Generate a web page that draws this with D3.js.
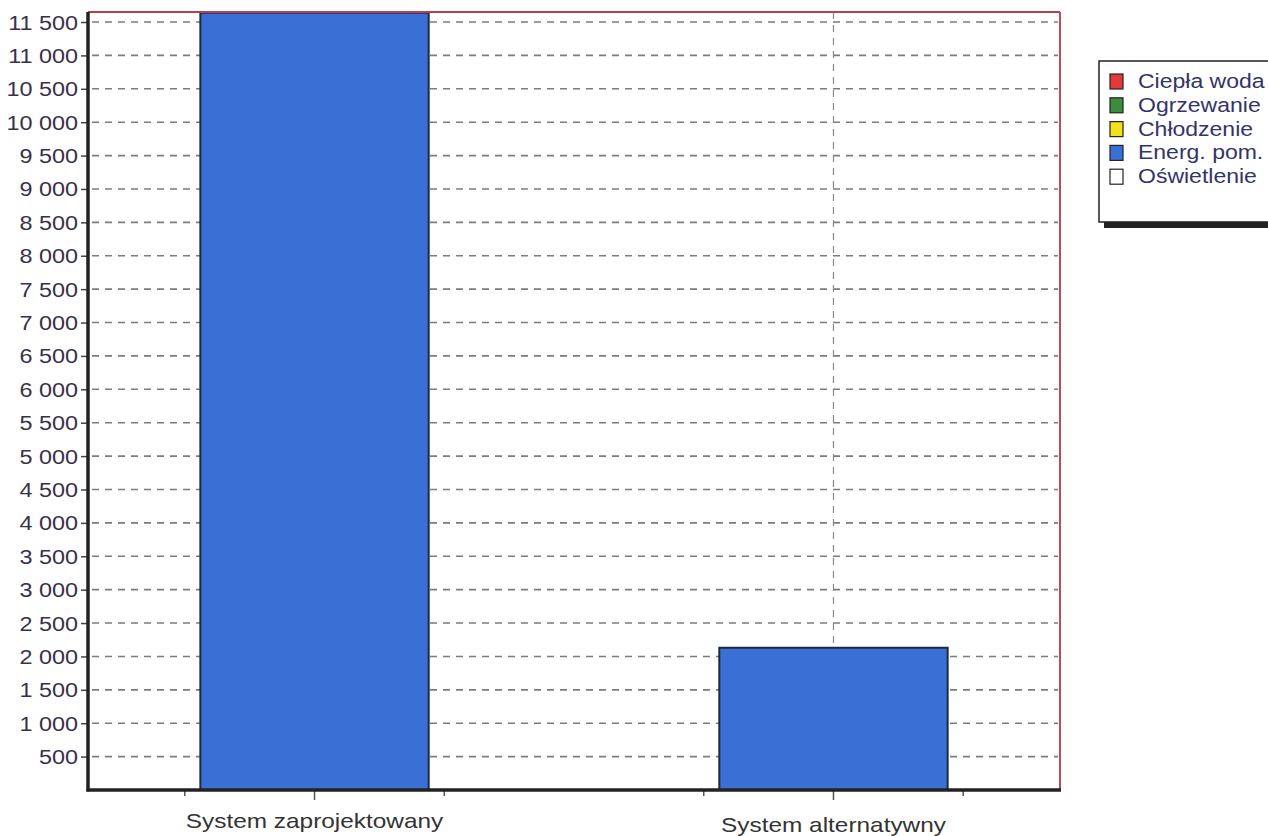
<!DOCTYPE html>
<html>
<head>
<meta charset="utf-8">
<script src="https://cdn.jsdelivr.net/npm/d3@7"></script>
<style>
  body { margin: 0; background: #fff; overflow: hidden; }
  text { font-family: "Liberation Sans", Arial, sans-serif; }
</style>
</head>
<body>
<svg width="1268" height="836"></svg>
<script>
// dane wykresu
var categories = ["System zaprojektowany", "System alternatywny"];
var seriesNames = ["Ciepła woda", "Ogrzewanie", "Chłodzenie", "Energ. pom.", "Oświetlenie"];
var seriesColors = ["#e23a3a", "#3d8b3d", "#f2e21c", "#3a6fd6", "#ffffff"];
var cieplaWoda = [0, 0];
var ogrzewanie = [0, 0];
var chlodzenie = [0, 0];
var energPom = [11640, 2130];
var oswietlenie = [0, 0];
var yTicks = [500, 1000, 1500, 2000, 2500, 3000, 3500, 4000, 4500, 5000, 5500,
              6000, 6500, 7000, 7500, 8000, 8500, 9000, 9500, 10000, 10500, 11000, 11500];
var yMax = 11650;

var rows = categories.map(function(c, i) {
  return {cat: c, "Ciepła woda": cieplaWoda[i], "Ogrzewanie": ogrzewanie[i],
          "Chłodzenie": chlodzenie[i], "Energ. pom.": energPom[i], "Oświetlenie": oswietlenie[i]};
});
var stacked = d3.stack().keys(seriesNames)(rows);

var svg = d3.select("svg"),
    margin = {top: 12, left: 88},
    width = 972,
    height = 778,
    sx = 1.2; // tekst w skanie jest rozciągnięty w poziomie

var g = svg.append("g").attr("transform", "translate(" + margin.left + "," + margin.top + ")");

var y = d3.scaleLinear().domain([0, yMax]).range([height, 0]);
var x = d3.scalePoint().domain(categories).range([0, width]).padding(0.4365);
var step = x.step();
var barW = step * 0.44;
var color = d3.scaleOrdinal().domain(seriesNames).range(seriesColors);

// siatka pozioma
g.append("g").selectAll("line")
  .data(yTicks).enter().append("line")
  .attr("x1", 4).attr("x2", width - 2)
  .attr("y1", function(d) { return y(d); })
  .attr("y2", function(d) { return y(d); })
  .attr("stroke", "#7c7c7c").attr("stroke-width", 1.6)
  .attr("stroke-dasharray", "7,6");

// siatka pionowa
g.append("g").selectAll("line")
  .data(categories).enter().append("line")
  .attr("x1", function(d) { return x(d); })
  .attr("x2", function(d) { return x(d); })
  .attr("y1", 0).attr("y2", height)
  .attr("stroke", "#888").attr("stroke-width", 1.2)
  .attr("stroke-dasharray", "7,6");

// słupki
g.append("g").selectAll("g")
  .data(stacked).enter().append("g")
  .attr("fill", function(d) { return color(d.key); })
  .selectAll("rect")
  .data(function(d) { return d.filter(function(p) { return p[1] > p[0]; }); })
  .enter().append("rect")
  .attr("x", function(d) { return x(d.data.cat) - barW / 2; })
  .attr("y", function(d) { return y(d[1]); })
  .attr("width", barW)
  .attr("height", function(d) { return y(d[0]) - y(d[1]); })
  .attr("stroke", "#1e2a3a").attr("stroke-width", 2);

// ramka (góra i prawo na czerwono)
g.append("line").attr("x1", 0).attr("x2", width).attr("y1", 0).attr("y2", 0)
  .attr("stroke", "#b8404e").attr("stroke-width", 2);
g.append("line").attr("x1", width).attr("x2", width).attr("y1", 0).attr("y2", height)
  .attr("stroke", "#c04858").attr("stroke-width", 2);

// oś Y
var yAxis = g.append("g")
  .call(d3.axisLeft(y).tickValues(yTicks).tickSize(7).tickPadding(0)
    .tickFormat(function(d) { return d3.format(",")(d).replace(/,/g, " "); }));
yAxis.select(".domain").remove();
yAxis.selectAll(".tick line").attr("stroke", "#444").attr("stroke-width", 1.5);
yAxis.selectAll(".tick text")
  .attr("x", null).attr("dy", null)
  .attr("transform", "translate(-10,7) scale(" + sx + ",1)")
  .attr("font-size", 19.5).attr("fill", "#3a3148");
g.append("line").attr("x1", 0).attr("x2", 0).attr("y1", 0).attr("y2", height + 1.5)
  .attr("stroke", "#222").attr("stroke-width", 3.5);

// oś X
var quarter = [];
categories.forEach(function(c) { quarter.push(x(c) - step / 4, x(c), x(c) + step / 4); });
g.append("g").selectAll("line")
  .data(quarter).enter().append("line")
  .attr("x1", function(d) { return d; }).attr("x2", function(d) { return d; })
  .attr("y1", height).attr("y2", function(d, i) { return height + (i % 3 === 1 ? 10 : 6); })
  .attr("stroke", "#555").attr("stroke-width", 1.5);
g.append("line").attr("x1", -1.5).attr("x2", width + 1).attr("y1", height).attr("y2", height)
  .attr("stroke", "#222").attr("stroke-width", 3.5);
g.append("g").selectAll("text")
  .data(categories).enter().append("text")
  .attr("transform", function(d, i) { return "translate(" + x(d) + "," + (height + 38 + i * 4) + ") scale(1.22,1)"; })
  .attr("text-anchor", "middle")
  .attr("font-size", 20).attr("fill", "#333")
  .text(function(d) { return d; });

// legenda
var lg = svg.append("g").attr("transform", "translate(1099,61)");
lg.append("rect").attr("x", 5).attr("y", 160).attr("width", 200).attr("height", 7).attr("fill", "#222");
lg.append("rect").attr("x", 0).attr("y", 0).attr("width", 200).attr("height", 161)
  .attr("fill", "#fff").attr("stroke", "#222").attr("stroke-width", 1.5);
var item = lg.selectAll(".item").data(seriesNames).enter().append("g")
  .attr("transform", function(d, i) { return "translate(11," + (20 + i * 23.8) + ")"; });
item.append("rect").attr("x", 0).attr("y", -7).attr("width", 13).attr("height", 15)
  .attr("fill", function(d) { return color(d); })
  .attr("stroke", "#222").attr("stroke-width", 1.2);
item.append("text")
  .attr("transform", "translate(28,7) scale(1.18,1)")
  .attr("font-size", 19.5).attr("fill", "#34346a")
  .text(function(d) { return d; });
</script>
</body>
</html>
